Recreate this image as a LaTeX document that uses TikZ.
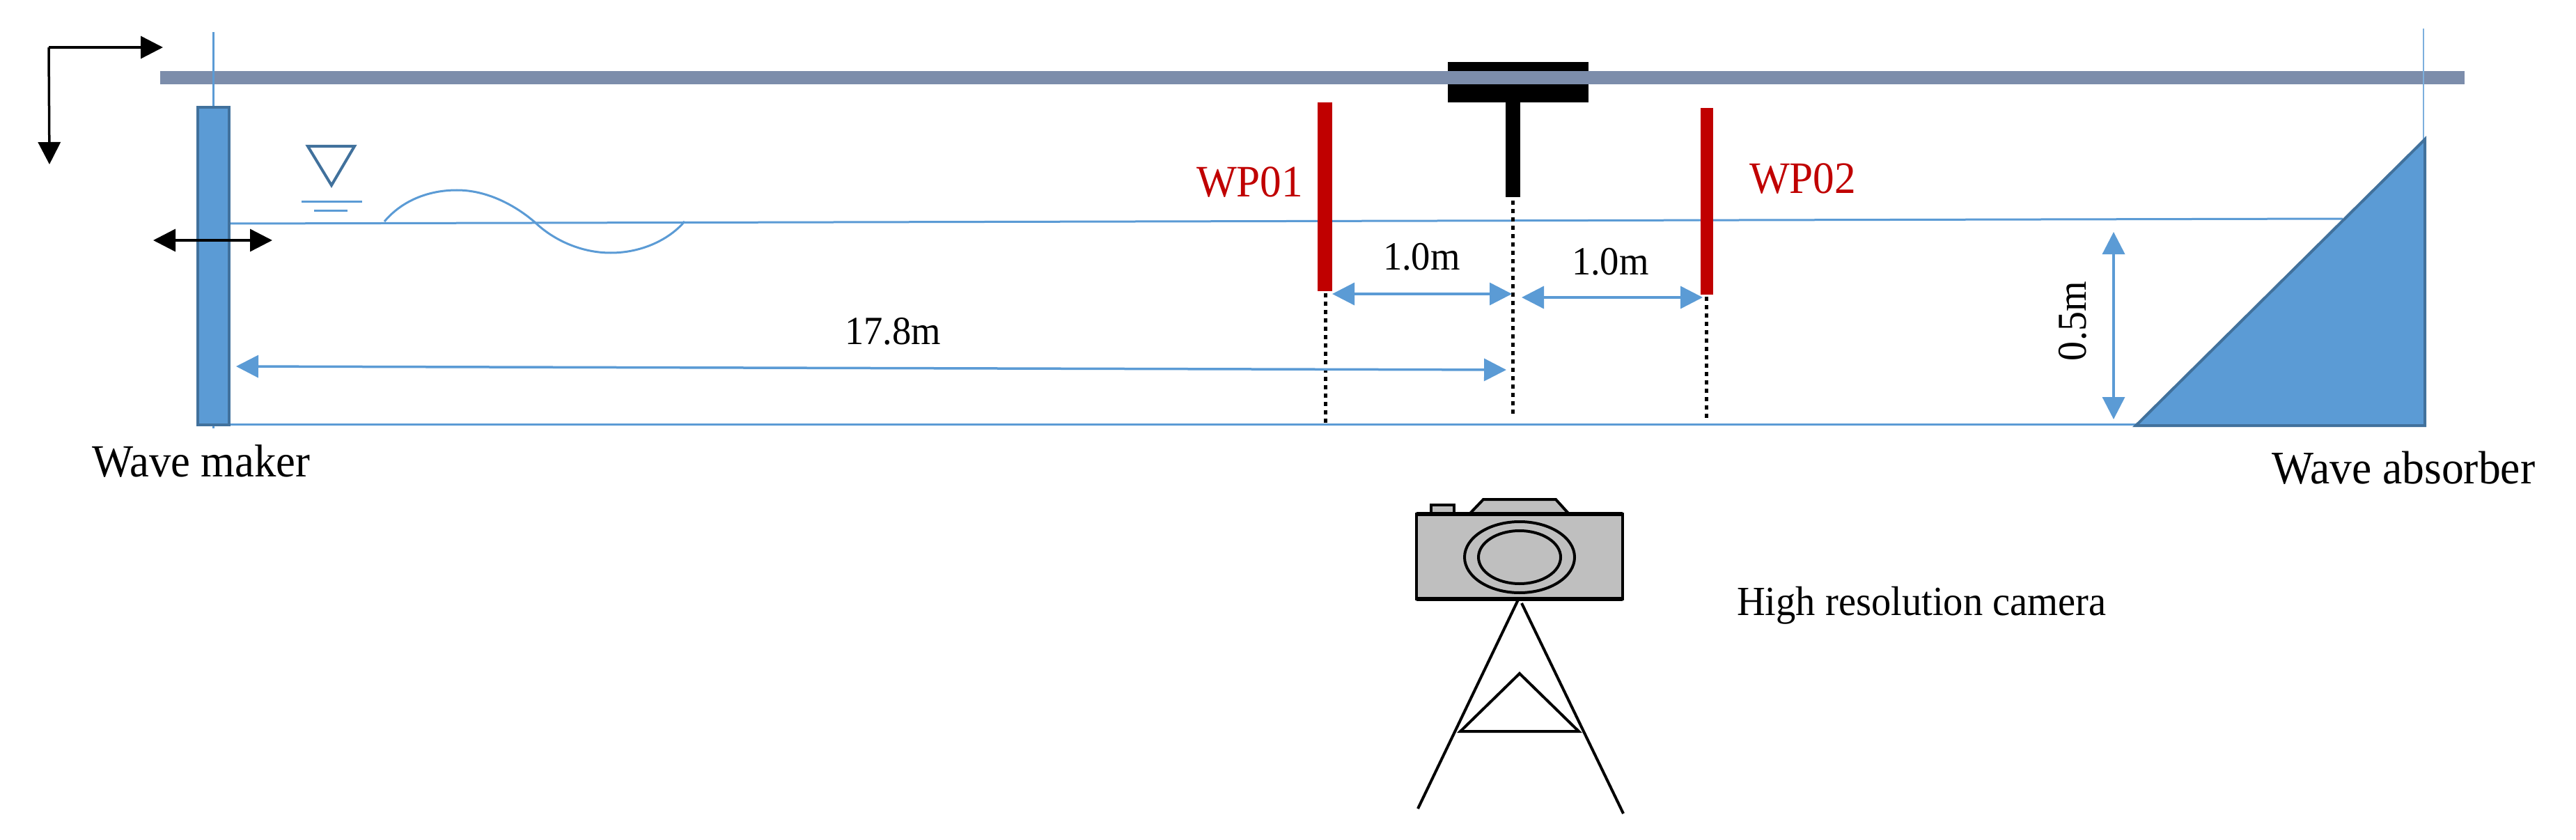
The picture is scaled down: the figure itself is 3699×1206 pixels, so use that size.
\documentclass[tikz,border=0pt]{standalone}
\usepackage{fontspec}
\setmainfont{Liberation Serif}
\usetikzlibrary{arrows.meta}
\definecolor{wblue}{HTML}{5B9BD5}
\definecolor{wedge}{HTML}{41719C}
\definecolor{railc}{HTML}{7C8DAB}
\definecolor{redc}{HTML}{C00000}
\definecolor{camg}{HTML}{BFBFBF}
\newcommand{\nrw}[1]{\scalebox{.95}[1]{#1}}
\tikzset{
  x=1pt,y=-1pt,
  box/.style={anchor=north west,inner sep=0pt,outer sep=0pt,draw=none},
  label/.style={anchor=base west,inner sep=0pt,outer sep=0pt,font=\fontsize{#1}{#1}\selectfont},
  bluewire/.style={draw=wblue,line width=3pt},
  dimarrow/.style={draw=wblue,line width=3.5pt,{Triangle[length=32pt,width=32pt]}-{Triangle[length=32pt,width=32pt]}},
  blackarrow/.style={draw=black,line width=3.5pt},
  tipB/.style={-{Triangle[length=32pt,width=32pt]}},
  dotline/.style={draw=black,line width=5pt,dash pattern=on 6pt off 6pt},
  camline/.style={draw=black,line width=4pt,line join=miter},
}
\begin{document}
\begin{tikzpicture}
\useasboundingbox (0,0) rectangle (3699,1206);
\fill[white] (0,0) rectangle (3699,1206);

% named end points
\coordinate (cornerA) at (70,68);
\coordinate (axisR) at (234,68);
\coordinate (axisD) at (71,236);
\coordinate (mkTop) at (306.5,46);
\coordinate (mkBot) at (306.5,615);
\coordinate (abTop) at (3480,41);
\coordinate (abBot) at (3480,200);
\coordinate (wlL) at (330,321);
\coordinate (wlR) at (3364,314);
\coordinate (bedL) at (330,609);
\coordinate (bedR) at (3067,609);

% water level and bed
\draw[bluewire] (wlL) -- (wlR);
\draw[bluewire] (bedL) -- (bedR);

% probe block under the rail
\node[box,fill=black,minimum width=202pt,minimum height=58pt] (block) at (2079,89) {};
\node[box,fill=black,minimum width=21pt,minimum height=136pt] (stem) at (2162,147) {};

% rail
\node[box,fill=railc,minimum width=3309pt,minimum height=19pt] (rail) at (230,102) {};
\draw[bluewire,line width=2.5pt] (mkTop) -- (mkBot);
\draw[bluewire,line width=2.5pt,draw=wblue!80!white] (abTop) -- (abBot);

% axes
\draw[blackarrow,tipB] (cornerA) -- (axisR);
\draw[blackarrow,tipB] (cornerA) -- (axisD);

% wave maker
\node[box,fill=wblue,draw=wedge,line width=4pt,minimum width=45pt,minimum height=456pt] (maker) at (284,154) {};
\coordinate (strokeL) at (220,345);
\coordinate (strokeR) at (391,345);
\draw[blackarrow,{Triangle[length=32pt,width=32pt]}-{Triangle[length=32pt,width=32pt]}] (strokeL) -- (strokeR);

% water level mark
\draw[draw=wedge,line width=4pt,line join=miter] (442,210) -- (509,210) -- (476,266) -- cycle;
\draw[bluewire] (433,290) -- (520,290);
\draw[bluewire] (451,303) -- (499,303);

% wave
\draw[bluewire] (552,318) .. controls (580,285) and (620,273) .. (656,273)
  .. controls (700,273) and (740,295) .. (768,319)
  .. controls (795,345) and (835,363) .. (877,363)
  .. controls (920,363) and (960,345) .. (983,318);

% absorber
\draw[fill=wblue,draw=wedge,line width=4pt,line join=miter] (3067,611) -- (3482,611) -- (3482,200) -- cycle;

% wave gauges
\node[box,fill=redc,minimum width=21pt,minimum height=271pt] (wpa) at (1892,147) {};
\node[box,fill=redc,minimum width=18pt,minimum height=268pt] (wpb) at (2442,155) {};

% dotted verticals
\coordinate (dA) at (1903,607);
\coordinate (dB) at (2172,595);
\coordinate (dC) at (2450,604);
\draw[dotline] (1903,421) -- (dA);
\draw[dotline] (2172,288) -- (dB);
\draw[dotline] (2450,426) -- (dC);

% dimensions
\coordinate (d1L) at (1913,422);
\coordinate (d1R) at (2171,422);
\coordinate (d2L) at (2185,427);
\coordinate (d2R) at (2445,427);
\coordinate (d3L) at (339,526);
\coordinate (d3R) at (2163,531);
\coordinate (d4T) at (3035,333);
\coordinate (d4B) at (3035,602);
\draw[dimarrow] (d1L) -- (d1R);
\draw[dimarrow] (d2L) -- (d2R);
\draw[dimarrow] (d3L) -- (d3R);
\draw[dimarrow] (d4T) -- (d4B);

% camera
\node[box,fill=camg,draw=black,line width=3.5pt,minimum width=33pt,minimum height=14pt] (knob) at (2055,725) {};
\draw[camline,fill=camg] (2110,738) -- (2130,717) -- (2234,717) -- (2253,738) -- cycle;
\node[box,fill=camg,draw=black,line width=3.5pt,minimum width=296pt,minimum height=122pt] (cam) at (2034,738) {};
\draw[black,line width=6pt] (cam.north west) -- (cam.north east);
\draw[black,line width=6pt] (cam.south west) -- (cam.south east);
\draw[camline] (2182,800) ellipse [x radius=79,y radius=51];
\draw[camline] (2182,800) ellipse [x radius=59,y radius=38];
\coordinate (legL) at (2036,1161);
\coordinate (legR) at (2331,1168);
\draw[camline] (2180,861) -- (legL);
\draw[camline] (2185,866) -- (legR);
\draw[camline] (2182,967) -- (2097,1050) -- (2267,1050) -- cycle;

% text
\node[label=66] (tmaker) at (132,684) {\nrw{Wave maker}};
\node[label=67] (tabs) at (3262,694) {\nrw{Wave absorber}};
\node[label=64.5,text=redc] (twpa) at (1718,283) {\nrw{WP01}};
\node[label=64.5,text=redc] (twpb) at (2512,278) {\nrw{WP02}};
\node[label=57.5] (tone) at (1986,387) {\nrw{1.0m}};
\node[label=57.5] (ttwo) at (2257,394) {\nrw{1.0m}};
\node[label=57.5] (tlong) at (1213,494) {\nrw{17.8m}};
\node[label=59,rotate=90] (tdepth) at (2995,518) {\nrw{0.5m}};
\node[label=59.5] (tcam) at (2494,883) {\nrw{High resolution camera}};
\end{tikzpicture}
\end{document}
